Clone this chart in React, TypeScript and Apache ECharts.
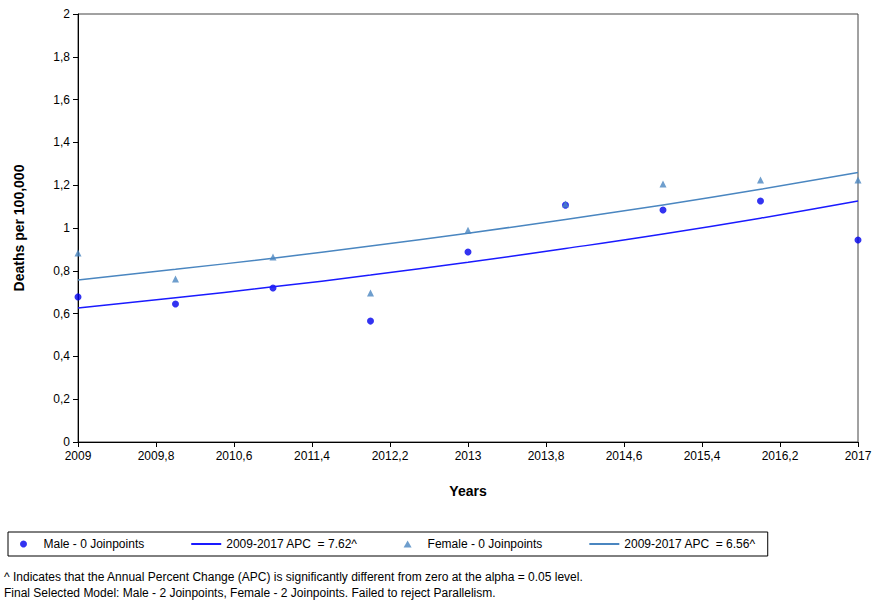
import { useRef, useEffect } from 'react'
import * as echarts from 'echarts'

const years = [2009, 2010, 2011, 2012, 2013, 2014, 2015, 2016, 2017]
const maleObs = [0.678, 0.645, 0.72, 0.565, 0.888, 1.107, 1.084, 1.126, 0.944]
const femaleObs = [0.883, 0.762, 0.864, 0.696, 0.99, 1.112, 1.206, 1.224, 1.224]
const maleFit = [0.626, 0.674, 0.725, 0.78, 0.84, 0.904, 0.972, 1.046, 1.126]
const femaleFit = [0.757, 0.807, 0.859, 0.916, 0.976, 1.04, 1.108, 1.181, 1.259]
const names = ['Male - 0 Joinpoints', '2009-2017 APC  = 7.62^', 'Female - 0 Joinpoints', '2009-2017 APC  = 6.56^']

const pairs = (ys: number[]) => ys.map((y, i) => [years[i] - 2009, y])
const comma = (v: number) => {
  const s = (+v.toFixed(1)).toString()
  return s.replace('.', ',')
}

export default function App() {
  const ref = useRef<HTMLDivElement>(null)
  useEffect(() => {
    if (!ref.current) return
    document.body.style.margin = '0'
    document.body.style.overflow = 'hidden'
    const chart = echarts.init(ref.current, undefined, { renderer: 'svg' })
    const font = 'Liberation Sans, Arial, sans-serif'
    chart.setOption({
      animation: false,
      textStyle: { fontFamily: font },
      grid: { left: 78, right: 15, top: 14, bottom: 162, outerBoundsMode: 'none', show: true, borderColor: '#444', borderWidth: 1 },
      xAxis: {
        type: 'value', min: 0, max: 8, interval: 0.8,
        name: 'Years', nameLocation: 'middle', nameGap: 42,
        nameTextStyle: { fontWeight: 'bold', fontSize: 14, color: '#000' },
        axisLine: { lineStyle: { color: '#000' } },
        axisTick: { show: true, lineStyle: { color: '#000' } },
        axisLabel: { color: '#000', fontSize: 12, formatter: (v: number) => comma(v + 2009) },
        splitLine: { show: false },
      },
      yAxis: {
        type: 'value', min: 0, max: 2, interval: 0.2,
        name: 'Deaths per 100,000', nameLocation: 'middle', nameGap: 52,
        nameTextStyle: { fontWeight: 'bold', fontSize: 14, color: '#000' },
        axisLine: { show: true, lineStyle: { color: '#000' } },
        axisTick: { show: true, lineStyle: { color: '#000' } },
        axisLabel: { color: '#000', fontSize: 12, formatter: (v: number) => comma(v) },
        splitLine: { show: false },
      },
      legend: {
        left: 8, top: 532, width: 812, itemGap: 46, padding: [6, 12],
        itemWidth: 30, itemHeight: 7,
        borderColor: '#000', borderWidth: 1,
        textStyle: { fontSize: 12, color: '#000' },
        data: [
          { name: names[0], icon: 'circle' },
          { name: names[1], itemStyle: { opacity: 0 } },
          { name: names[2], icon: 'path://M4,0L8,7L0,7Z' },
          { name: names[3], itemStyle: { opacity: 0 } },
        ],
      },
      graphic: [
        { type: 'text', left: 4, top: 571, style: { text: '^ Indicates that the Annual Percent Change (APC) is significantly different from zero at the alpha = 0.05 level.', fontSize: 12, fill: '#000', fontFamily: font } },
        { type: 'text', left: 4, top: 587, style: { text: 'Final Selected Model: Male - 2 Joinpoints, Female - 2 Joinpoints. Failed to reject Parallelism.', fontSize: 12, fill: '#000', fontFamily: font } },
      ],
      series: [
        { name: names[0], type: 'scatter', symbol: 'circle', symbolSize: 7, itemStyle: { color: '#0000ee' }, data: pairs(maleObs) },
        { name: names[1], type: 'line', symbol: 'none', smooth: true, lineStyle: { color: '#1a1aff', width: 1.5 }, itemStyle: { color: '#1a1aff' }, data: pairs(maleFit) },
        { name: names[2], type: 'scatter', symbol: 'triangle', symbolSize: 7, itemStyle: { color: '#4a86c0' }, data: pairs(femaleObs) },
        { name: names[3], type: 'line', symbol: 'none', smooth: true, lineStyle: { color: '#4a86c0', width: 1.5 }, itemStyle: { color: '#4a86c0' }, data: pairs(femaleFit) },
      ],
    })
    return () => chart.dispose()
  }, [])
  return <div ref={ref} style={{ width: 873, height: 604 }} />
}
